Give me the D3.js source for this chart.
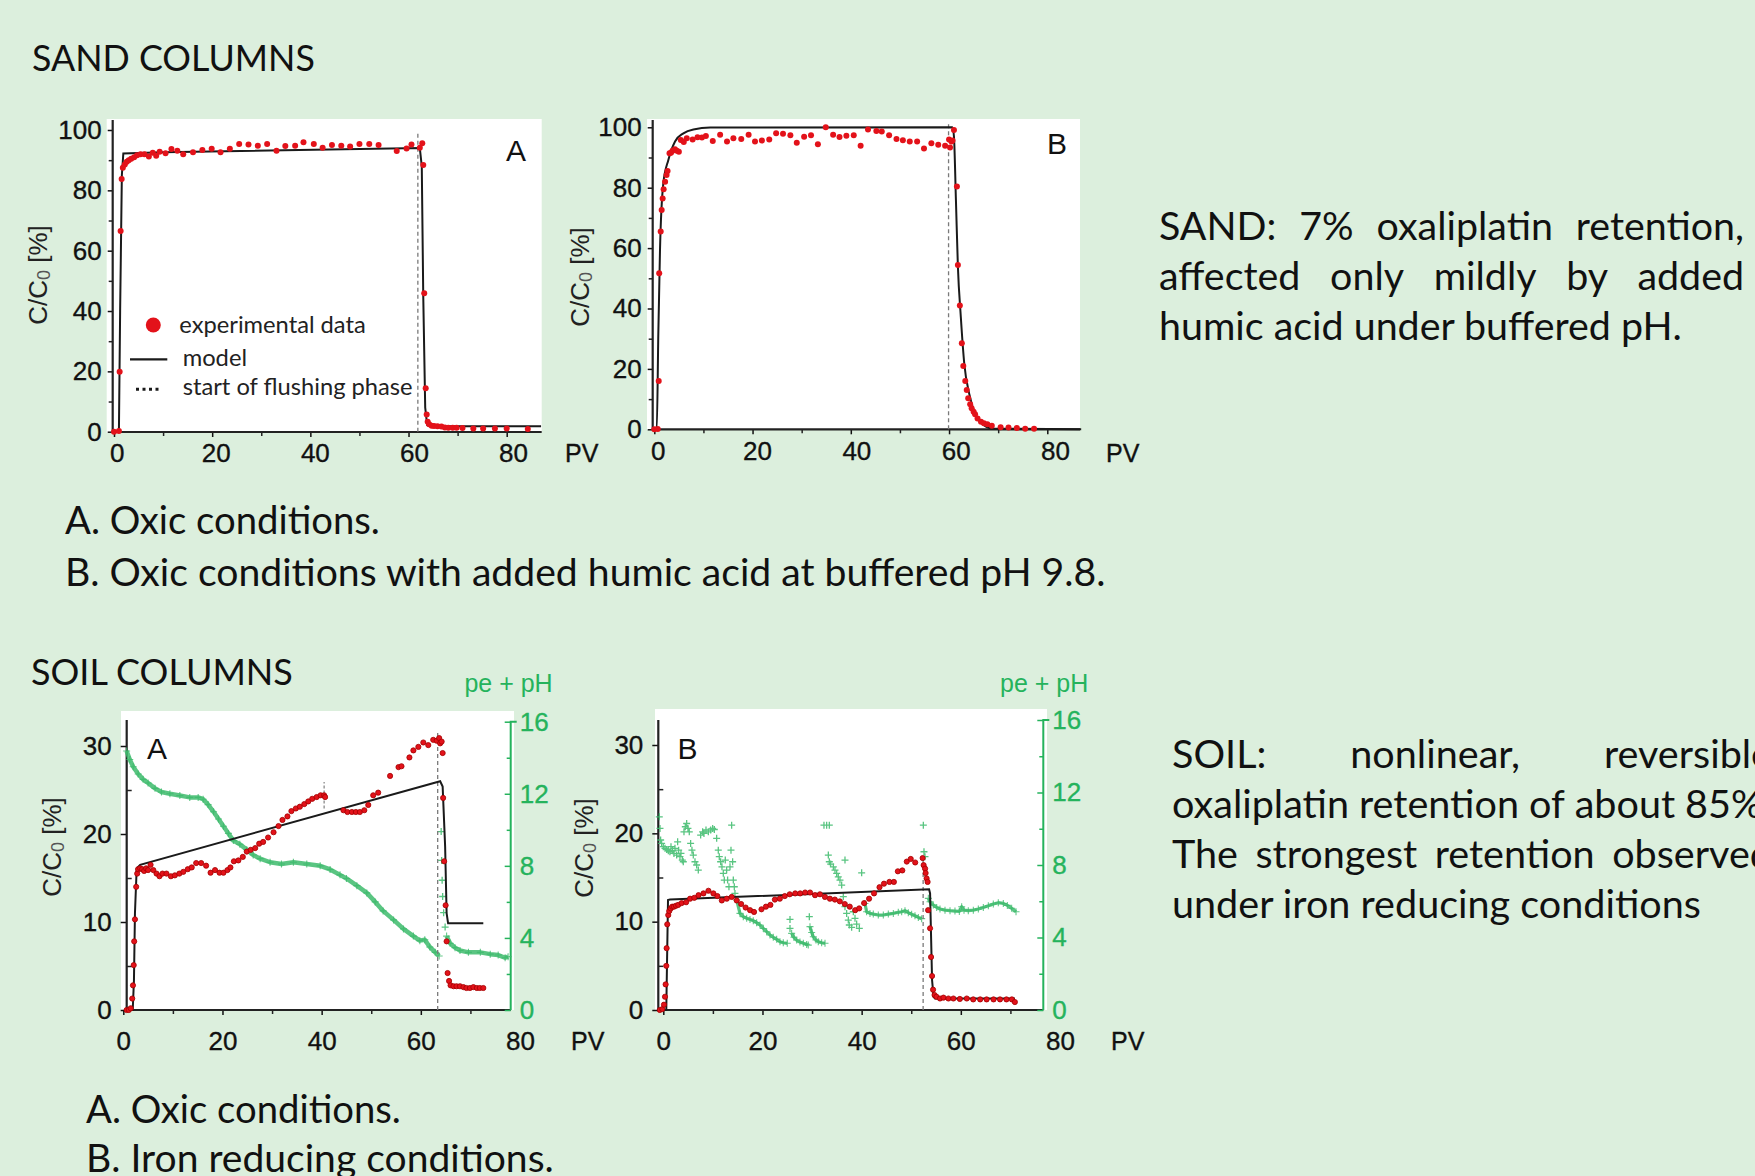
<!DOCTYPE html>
<html>
<head>
<meta charset="utf-8">
<script src="https://cdn.jsdelivr.net/npm/d3@7"></script>
<style>
  html, body { margin: 0; padding: 0; background: #dcefdd; overflow: hidden; }
  svg { display: block; }
</style>
</head>
<body>
<svg id="chart" width="1755" height="1176"></svg>
<script>
// ---------------- data ----------------
const xTickValues = [0, 20, 40, 60, 80];
const xMinorTicks = [10, 30, 50, 70];
const sandYTicks = [0, 20, 40, 60, 80, 100];
const sandYMinor = [10, 30, 50, 70, 90];
const soilYTicks = [0, 10, 20, 30];
const soilYMinor = [5, 15, 25];
const peTicks = [0, 4, 8, 12, 16];
const peMinor = [2, 6, 10, 14];

// Sand column A: [PV, C/C0 %]
const sandAExp = [[0,0],[1.0,0.2],[1.15,19.9],[1.35,66.5],[1.56,83.8],[1.8,87.5],[2.2,88.6],[2.6,89.5],[3.0,90],[3.5,90.5],[4.1,91],[4.7,91.6],[5.4,92],[6.2,92],[7.1,91.2],[7.9,92.5],[8.6,91.5],[9.3,92.8],[10.5,92.3],[11.7,93.7],[12.9,93.1],[14.1,92],[16.1,92.6],[18,93.4],[19.9,93.8],[21.7,92.6],[23.6,93.8],[25.5,95.4],[27.4,95.2],[29.3,94.8],[31.2,95.4],[33.1,93.1],[34.9,94.7],[36.9,94.8],[38.6,95.9],[40.7,95.4],[42.5,94.1],[44.4,95],[46.3,94.8],[48.1,94.5],[50,95.4],[52,95.4],[53.9,95],[57.6,93],[59.6,93.9],[60.6,95.2],[62.3,94.1],[62.8,95.6],[63,88.4],[63.2,45.9],[63.5,14.4],[63.7,5.7],[63.9,3.3],[64.2,2.5],[64.7,2],[65.2,1.9],[65.9,1.8],[66.7,1.7],[67.4,1.4],[68.1,1.3],[69,1.3],[69.8,1.3],[71,1.2],[73.2,1.1],[75.2,1.1],[77.6,1.1],[80,1.1],[84.3,0.9]];
const sandAModel = [[0,0],[1.0,0],[1.25,40],[1.6,85],[1.9,92.2],[10,92.6],[62.3,94],[62.7,88],[63.0,45],[63.4,8],[63.8,2.2],[64.5,1.8],[87,1.8]];
const sandAFlush = 61.9;

// Sand column B
const sandBExp = [[0,0],[0.7,0.1],[0.9,16],[1.0,51.7],[1.3,65.5],[1.5,72.6],[1.7,76.4],[1.9,79.5],[2.2,82],[2.5,84.2],[2.7,85.5],[3.1,91.4],[3.4,91.6],[3.7,92.2],[4.2,92.7],[4.6,92.2],[5.0,91.9],[5.4,95.8],[6.0,95.1],[6.6,96.4],[7.8,96],[8.8,96.7],[9.7,96.6],[10.5,97.1],[11.9,95.5],[13.4,97.5],[14.8,95.3],[16.1,96.4],[17.7,96.1],[19.2,97.5],[20.5,95.3],[21.9,95.6],[23.4,96],[24.8,98],[26.2,97.9],[27.7,97.4],[29,94.9],[30.5,96.9],[31.9,97.4],[33.3,94.4],[34.9,100],[36.4,97.5],[37.7,96.8],[39.1,97.2],[40.6,97.4],[42,93.9],[43.5,99.3],[45.2,98.8],[46.3,98.6],[47.8,97.4],[49.3,96.1],[50.6,95.7],[52,95.3],[53.5,95.3],[54.9,93],[56.4,94.7],[57.8,94.2],[59.2,93.9],[60,96],[60.2,93.3],[60.5,95.3],[60.7,95.6],[61,99.1],[61.6,80.4],[61.8,54.4],[62.2,41],[62.6,28.5],[62.9,21],[63.3,16],[63.6,13],[63.9,10.3],[64.3,8.3],[64.6,7],[65,5.8],[65.3,5],[65.8,3.6],[66.5,2.5],[67.1,2],[67.8,1.7],[68.7,1.2],[70.5,0.7],[72.1,0.6],[73.8,0.4],[75.5,0.2],[77.3,0.2]];
const sandBModel = [[0,0],[0.5,0],[0.82,31.8],[1.16,59.4],[1.84,81.5],[2.86,89.2],[4.22,95.3],[5.92,98],[7.96,99.3],[11.4,99.9],[60.7,100],[61.0,96.9],[61.4,75.9],[61.8,53.9],[62.4,37.1],[63.1,21.7],[64.1,11.8],[65.4,4.7],[67.1,1.4],[69.1,0.2],[86.9,0]];
const sandBFlush = 59.9;

// Soil column A: [PV, C/C0 %] and [PV, pe + pH]
const soilAExp = [[0.67,0],[1.1,0],[1.5,0.2],[1.8,1.3],[1.95,2.8],[2.1,5.1],[2.2,7.8],[2.35,10.3],[2.6,14],[2.8,15.5],[3.0,16],[3.4,16.1],[3.8,16],[4.2,15.8],[4.6,16.1],[5.0,15.9],[5.5,16.5],[6.05,15.9],[6.7,15.5],[7.3,15.2],[7.9,15.5],[8.7,15.5],[9.6,15.2],[10.4,15.3],[11.3,15.5],[12.1,15.7],[13,16],[13.8,16.2],[14.7,16.7],[15.7,16.7],[16.7,16.4],[17.6,15.6],[18.5,15.9],[19.4,15.6],[20.2,15.6],[21,15.9],[21.6,16.2],[22.3,16.9],[23.2,17],[24.1,17.4],[24.9,18],[25.7,18.2],[26.6,18.4],[27.4,18.9],[28.2,19.1],[29.2,19.6],[30.3,20.2],[31.3,20.9],[32.1,21.6],[33.1,22],[33.9,22.6],[34.8,22.9],[35.6,23.1],[36.5,23.4],[37.3,23.7],[38.1,24],[39,24.2],[39.8,24.4],[40.5,24.4],[40.7,24.2],[44.4,22.7],[45.2,22.5],[46.1,22.5],[46.9,22.5],[47.7,22.5],[48.6,22.7],[49.4,23.3],[50.4,24.4],[51.4,24.7],[53.8,26.6],[55.5,27.6],[56.1,27.7],[57.7,28.7],[58.5,29.5],[59.5,29.9],[60.5,30.4],[61.5,30.1],[62.5,30.7],[63.2,30.6],[63.7,30.9],[63.9,30.3],[64.2,30.5],[64.4,29.2],[64.5,24.1],[64.7,16.9],[65,11.9],[65.2,7.8],[65.4,4.2],[65.7,3.3],[66,2.8],[66.6,2.7],[67.2,2.7],[67.9,2.7],[68.6,2.6],[69.2,2.5],[69.9,2.5],[70.6,2.6],[71.3,2.5],[71.9,2.5],[72.6,2.5]];
const soilAModel = [[0.67,0],[1.9,0],[2.15,3.4],[2.35,11],[2.7,16.1],[3.4,16.5],[63.9,26],[64.4,25.4],[64.9,18.6],[65.2,11],[65.5,9.85],[72.6,9.85]];
const soilAPe = [[0.67,14.37],[1.3,13.9],[2.0,13.5],[3.0,13.1],[4.0,12.8],[5.0,12.6],[6.4,12.3],[7.7,12.1],[9.4,12.0],[11.4,11.9],[13.4,11.8],[15.1,11.8],[16.1,11.7],[17.1,11.4],[18.2,11.0],[19.2,10.6],[20.2,10.2],[21.2,9.8],[22.2,9.4],[23.5,9.2],[24.9,8.9],[26.2,8.6],[27.6,8.4],[29.6,8.2],[31.9,8.1],[34.3,8.2],[37,8.1],[39.7,8.0],[41.7,7.8],[43.7,7.5],[45,7.3],[47.1,6.9],[49.1,6.5],[50.8,6.0],[52.4,5.5],[54.5,5.0],[56.5,4.5],[58.5,4.1],[59.8,3.85],[60.8,3.9],[61.8,3.5],[62.9,3.2],[63.7,3.0]];
const soilAPeFlushJump = [[64.1,9.9],[64.2,8.3],[64.3,7.2],[64.4,6.3],[64.6,5.4],[64.9,4.6]];
const soilAPeAfter = [[65.2,4.1],[65.9,3.7],[66.9,3.46],[67.9,3.3],[69.6,3.2],[72,3.2],[74,3.1],[75.6,3.05],[77,2.9],[77.6,2.96]];
const soilAFlush = 63.4;
const soilASampleMark = [40.5, 22.9, 25.9];

// Soil column B
const soilBExp = [[-0.7,0],[-0.2,0.1],[0.13,0.6],[0.34,1.5],[0.47,2.9],[0.6,5.0],[0.67,7.0],[0.8,9.7],[1.0,10.75],[1.2,11.2],[1.5,11.5],[1.8,11.7],[2.15,11.7],[2.55,11.8],[3.0,11.9],[3.7,12.1],[4.6,12.2],[5.4,12.6],[6.25,12.7],[7.1,13],[8.1,13.2],[9.1,13.5],[10.1,13.2],[10.9,12.9],[11.8,12.4],[12.8,12.6],[13.8,12.8],[14.8,12.4],[15.7,12.0],[16.6,11.6],[17.5,11.3],[18.3,11.1],[19.8,11.4],[20.7,11.7],[21.6,11.9],[22.5,12.5],[23.5,12.6],[24.5,12.9],[25.5,13.1],[26.6,13.2],[27.6,13.2],[28.6,13.3],[29.6,13.3],[30.6,13.0],[31.6,13.1],[32.6,12.8],[33.6,12.6],[34.6,12.5],[35.6,12.3],[36.6,12.0],[37.6,11.7],[38.7,11.3],[39.5,11.5],[40.5,12.1],[41.5,12.6],[42.5,13.2],[43.6,13.9],[44.5,14.3],[45.6,14.5],[46.5,14.5],[47.3,15.7],[48.2,15.8],[49.1,16.8],[49.9,17.1],[50.8,16.7],[52.3,17.2],[52.5,16.4],[52.8,16.0],[52.9,15.5],[53.1,14.9],[53.3,14.5],[53.4,11.3],[53.8,9.25],[54,6.0],[54.2,3.85],[54.4,2.3],[54.7,1.7],[55.1,1.5],[55.8,1.3],[56.5,1.4],[57.5,1.3],[58.5,1.3],[59.8,1.25],[61.2,1.3],[62.5,1.2],[63.9,1.2],[65.2,1.2],[66.6,1.2],[67.9,1.2],[69.2,1.2],[70.3,1.2],[70.9,0.9]];
const soilBModel = [[-0.7,0],[0.6,0],[0.95,12.45],[1.35,12.5],[53.6,13.66],[53.8,13.2],[54.2,3.4],[54.5,1.5],[54.8,1.3],[70.9,1.3]];
const soilBPeScatter = [[-0.81,10.66],[-0.67,10.02],[-0.54,9.38],[-0.34,9.19],[0,9.01],[0.34,8.92],[0.67,8.86],[1.01,8.79],[1.34,8.73],[1.55,9.01],[1.88,8.79],[2.15,8.64],[2.35,8.92],[2.69,8.55],[2.89,9.28],[3.09,8.82],[3.36,8.46],[3.56,8.64],[3.83,8.27],[4.03,8.18],[4.17,9.83],[4.44,10.11],[4.71,10.29],[4.97,10.02],[5.24,9.83],[5.51,9.19],[5.78,8.82],[6.05,8.55],[6.39,8.18],[6.72,8.0],[7.06,7.72],[7.53,9.65],[7.93,9.83],[8.2,9.74],[8.61,9.93],[9.08,9.83],[9.55,9.93],[9.95,10.02],[10.29,9.96],[10.76,9.47],[11.09,8.82],[11.29,8.46],[11.56,8.18],[11.83,7.9],[12.1,7.54],[12.3,7.17],[12.5,8.27],[12.77,7.72],[12.97,7.17],[13.24,6.8],[13.45,7.9],[13.65,8.82],[13.78,10.2],[13.98,8.18],[14.12,7.17],[14.32,6.8],[14.45,6.43],[25.55,5.0],[25.55,4.5],[29.45,5.15],[32.4,10.2],[32.94,10.2],[33.48,10.2],[33.28,8.55],[33.48,8.18],[33.75,8.05],[34.29,7.9],[34.62,7.72],[34.96,7.54],[35.29,7.35],[35.63,7.17],[35.97,6.89],[36.64,8.27],[36.3,6.25],[36.64,5.7],[36.97,5.33],[37.31,4.96],[37.51,4.69],[37.98,4.56],[38.32,5.42],[38.66,5.06],[38.99,4.74],[39.53,4.5],[40.0,7.57],[52.44,10.2],[52.57,8.73],[52.77,8.46]];
const soilBPeRuns = [
  [[14.79,6.07],[15.46,5.33],[16.13,5.15],[16.81,5.06],[17.48,5.0],[18.15,4.93],[18.82,4.82],[19.5,4.69],[20.17,4.5],[20.84,4.32],[21.51,4.14],[22.18,4.01],[22.86,3.9],[23.53,3.77],[24.2,3.71],[25.0,3.68]],
  [[25.88,4.23],[26.35,4.01],[26.89,3.86],[27.56,3.75],[28.24,3.68],[28.91,3.62],[29.24,3.58]],
  [[29.58,4.6],[29.92,4.28],[30.25,4.04],[30.79,3.86],[31.26,3.77],[31.93,3.71],[32.61,3.68]],
  [[40.67,5.88],[41.0,5.42],[41.68,5.33],[42.35,5.29],[43.36,5.24],[44.37,5.24],[45.38,5.29],[46.39,5.33],[47.39,5.39],[48.07,5.42],[48.74,5.48],[49.41,5.37],[50.08,5.28],[50.76,5.2],[51.43,5.11],[52.1,5.04]],
  [[53.45,6.16],[53.78,5.97],[54.45,5.79],[55.13,5.66],[55.8,5.57],[56.81,5.51],[57.82,5.48],[58.82,5.46],[59.7,5.44],[60.17,5.7],[60.64,5.51],[61.51,5.48],[62.52,5.51],[63.53,5.57],[64.54,5.66],[65.55,5.75],[66.55,5.85],[67.56,5.92],[68.57,5.88],[69.38,5.77],[70.25,5.61],[71.13,5.42]]
];
const soilBFlush = 52.4;

// text blocks
const sandNote = ["SAND: 7% oxaliplatin retention,", "affected only mildly by added", "humic acid under buffered pH."];
const soilNote = ["SOIL: nonlinear, reversible", "oxaliplatin retention of about 85%.", "The strongest retention observed", "under iron reducing conditions"];
const legendLabels = ["experimental data", "model", "start of flushing phase"];

// ---------------- styles ----------------
const W = 1755, H = 1176;
const BG = "#dcefdd";
const INK = "#111";
const AXIS_INK = "#222";
const GREEN_TEXT = "#25b35c";
const GREEN_DATA = "#3dbb6c";
const RED = "#e3121a";
const TEXT_FONT = "Lato, 'Open Sans', sans-serif";
const AXIS_FONT = "'Liberation Sans', Arial, sans-serif";
const TICK_SIZE = 26;

const svg = d3.select("#chart");
svg.append("rect").attr("width", W).attr("height", H).attr("fill", BG);

function fitFont(str, family, target) {
  const t = svg.append("text").attr("font-family", family).attr("font-size", 100).text(str);
  const w = t.node().getComputedTextLength();
  t.remove();
  return 100 * target / w;
}

function addText(str, x, y, size, family, fill, anchor) {
  return svg.append("text")
    .attr("x", x).attr("y", y)
    .attr("font-family", family).attr("font-size", size)
    .attr("fill", fill || INK)
    .attr("text-anchor", anchor || "start")
    .text(str);
}

// Place words so a line fills [x0, x1] exactly (justified text).
function justifyLine(str, x0, x1, y, size) {
  const words = str.split(" ");
  const t = svg.append("text").attr("y", y)
    .attr("font-family", TEXT_FONT).attr("font-size", size).attr("fill", INK);
  const spans = words.map(w => t.append("tspan").text(w));
  const widths = spans.map(s => s.node().getComputedTextLength());
  const gap = (x1 - x0 - d3.sum(widths)) / (words.length - 1);
  let x = x0;
  spans.forEach((s, i) => { s.attr("x", x); x += widths[i] + gap; });
}

function styleAxis(g, color) {
  g.select(".domain").remove();
  g.selectAll("line").attr("stroke", color).attr("stroke-width", 1.5);
  g.selectAll("text").attr("font-family", AXIS_FONT).attr("font-size", TICK_SIZE)
    .attr("fill", color).attr("stroke", color).attr("stroke-width", 0.35);
}

function crossPath(d, x, y, s) {
  const cx = x(d[0]), cy = y(d[1]);
  return `M${cx - s},${cy}H${cx + s}M${cx},${cy - s}V${cy + s}`;
}

// ---------------- panels ----------------
const panels = [
  { frame: {l: 112.7, r: 541.7, t: 120, b: 432}, bg: [106.7, 119, 541.7, 433],
    xRange: [114, 506.7], labelRange: [116.7, 513], yDomain: [0, 100], yRange: [431.7, 130],
    yTicks: sandYTicks, yMinor: sandYMinor, yTickSize: 5, yPad: 6, minorInside: false, xPad: 7,
    exp: sandAExp, model: sandAModel, curve: d3.curveLinear, flush: [sandAFlush, 0, 99],
    letter: ["A", 516, 161], pv: [565, 462], title: [38, 275], dotR: 3, dotStroke: "none" },
  { frame: {l: 652.7, r: 1080, t: 120, b: 429.3}, bg: [647, 119, 1080, 430],
    xRange: [654.3, 1047.3], labelRange: [657.7, 1055], yDomain: [0, 100], yRange: [429.3, 127.3],
    yTicks: sandYTicks, yMinor: sandYMinor, yTickSize: 5, yPad: 6, minorInside: false, xPad: 7,
    exp: sandBExp, model: sandBModel, curve: d3.curveMonotoneX, flush: [sandBFlush, 0, 101],
    letter: ["B", 1057, 154], pv: [1106, 462], title: [580, 277], dotR: 3, dotStroke: "none" },
  { frame: {l: 126.7, r: 510.7, t: 720, b: 1010}, bg: [121, 711, 514, 1010],
    xRange: [123.3, 520], labelRange: [123.3, 520], yDomain: [0, 30], yRange: [1010, 746], y2Range: [1010, 721.7],
    yTicks: soilYTicks, yMinor: soilYMinor, yTickSize: 6, yPad: 9, minorInside: true, xPad: 17,
    exp: soilAExp, model: soilAModel, curve: d3.curveLinear, flush: [soilAFlush, 0, 31.8],
    mark: soilASampleMark,
    peRuns: [soilAPe, soilAPeAfter], peScatter: soilAPeFlushJump, peWidth: 4.5,
    letter: ["A", 157, 759], pv: [571, 1050], title: [52, 847], pe: [552.7, 692],
    dotR: 2.6, dotStroke: "#a30000" },
  { frame: {l: 658.3, r: 1043.3, t: 720, b: 1010}, bg: [655, 709, 1047, 1010],
    xRange: [663.3, 1060], labelRange: [663.3, 1060], yDomain: [0, 30], yRange: [1010, 745], y2Range: [1010, 720],
    yTicks: soilYTicks, yMinor: soilYMinor, yTickSize: 6, yPad: 9, minorInside: true, xPad: 17,
    exp: soilBExp, model: soilBModel, curve: d3.curveLinear, flush: [soilBFlush, 0, 17],
    peRuns: soilBPeRuns, peScatter: soilBPeScatter, peWidth: 3.2,
    letter: ["B", 687.5, 759], pv: [1111, 1050], title: [584, 848], pe: [1088.3, 692],
    dotR: 2.6, dotStroke: "#a30000" }
];

function drawPanel(p) {
  const g = svg.append("g");
  const f = p.frame;
  g.append("rect").attr("x", p.bg[0]).attr("y", p.bg[1])
    .attr("width", p.bg[2] - p.bg[0]).attr("height", p.bg[3] - p.bg[1]).attr("fill", "#fff");

  const x = d3.scaleLinear().domain([0, 80]).range(p.xRange);
  const xLab = d3.scaleLinear().domain([0, 80]).range(p.labelRange);
  const y = d3.scaleLinear().domain(p.yDomain).range(p.yRange);
  const y2 = p.y2Range ? d3.scaleLinear().domain([0, 16]).range(p.y2Range) : null;

  // left axis
  const ya = g.append("g").attr("transform", `translate(${f.l},0)`)
    .call(d3.axisLeft(y).tickValues(p.yTicks).tickSize(p.yTickSize).tickPadding(p.yPad));
  styleAxis(ya, INK);
  const yam = g.append("g").attr("transform", `translate(${f.l},0)`)
    .call(d3.axisLeft(y).tickValues(p.yMinor).tickSize(p.minorInside ? -5 : 4).tickFormat(""));
  styleAxis(yam, AXIS_INK);

  // bottom axis: tick marks on the data scale, numbers on the label scale
  const xa = g.append("g").attr("transform", `translate(0,${f.b})`)
    .call(d3.axisBottom(x).tickValues(xTickValues).tickSize(5).tickFormat(""));
  styleAxis(xa, INK);
  xa.selectAll(".tick").filter(d => x(d) > f.r).remove();
  const xl = g.append("g").attr("transform", `translate(0,${f.b})`)
    .call(d3.axisBottom(xLab).tickValues(xTickValues).tickSize(0).tickPadding(5 + p.xPad));
  styleAxis(xl, INK);
  xl.selectAll("line").remove();
  const xam = g.append("g").attr("transform", `translate(0,${f.b})`)
    .call(d3.axisBottom(x).tickValues(xMinorTicks).tickSize(4).tickFormat(""));
  styleAxis(xam, AXIS_INK);

  // frame lines
  g.append("line").attr("x1", f.l).attr("x2", f.l).attr("y1", f.t).attr("y2", f.b)
    .attr("stroke", AXIS_INK).attr("stroke-width", 2.2);
  g.append("line").attr("x1", f.l).attr("x2", f.r).attr("y1", f.b).attr("y2", f.b)
    .attr("stroke", AXIS_INK).attr("stroke-width", 2.2);

  // right (pe + pH) axis
  if (y2) {
    const ra = g.append("g").attr("transform", `translate(${f.r},0)`)
      .call(d3.axisRight(y2).tickValues(peTicks).tickSizeInner(-6).tickSizeOuter(0).tickPadding(9));
    styleAxis(ra, GREEN_TEXT);
    const ram = g.append("g").attr("transform", `translate(${f.r},0)`)
      .call(d3.axisRight(y2).tickValues(peMinor).tickSizeInner(-4).tickSizeOuter(0).tickFormat(""));
    styleAxis(ram, GREEN_TEXT);
    g.append("path")
      .attr("d", `M${f.r + 6},${y2(16)}H${f.r}V${f.b}`)
      .attr("fill", "none").attr("stroke", GREEN_TEXT).attr("stroke-width", 2);
  }

  // pe + pH measurements
  if (y2) {
    const peLine = d3.line().x(d => x(d[0])).y(d => y2(d[1]));
    p.peRuns.forEach(run => {
      g.append("path").attr("d", peLine(run)).attr("fill", "none")
        .attr("stroke", GREEN_DATA).attr("stroke-width", p.peWidth)
        .attr("stroke-linejoin", "round").attr("opacity", 0.85);
      g.append("path").attr("d", run.map(d => crossPath(d, x, y2, 3.5)).join(""))
        .attr("stroke", GREEN_DATA).attr("stroke-width", 1.1).attr("opacity", 0.8);
    });
    g.append("path").attr("d", p.peScatter.map(d => crossPath(d, x, y2, 3.5)).join(""))
      .attr("stroke", GREEN_DATA).attr("stroke-width", 1.3).attr("opacity", 0.85);
  }

  // start of flushing phase
  g.append("line")
    .attr("x1", x(p.flush[0])).attr("x2", x(p.flush[0]))
    .attr("y1", y(p.flush[1])).attr("y2", y(p.flush[2]))
    .attr("stroke", "#7a7a7a").attr("stroke-width", 1.3).attr("stroke-dasharray", "4,3");
  if (p.mark) {
    g.append("line")
      .attr("x1", x(p.mark[0])).attr("x2", x(p.mark[0]))
      .attr("y1", y(p.mark[1])).attr("y2", y(p.mark[2]))
      .attr("stroke", "#8a8a8a").attr("stroke-width", 1.3).attr("stroke-dasharray", "3,2");
  }

  // model
  g.append("path")
    .attr("d", d3.line().x(d => x(d[0])).y(d => y(d[1])).curve(p.curve)(p.model))
    .attr("fill", "none").attr("stroke", "#1a1a1a").attr("stroke-width", 2);

  // experimental data
  g.selectAll("circle.exp").data(p.exp).join("circle")
    .attr("class", "exp")
    .attr("cx", d => x(d[0])).attr("cy", d => y(d[1]))
    .attr("r", p.dotR).attr("fill", RED)
    .attr("stroke", p.dotStroke).attr("stroke-width", 0.8);

  // labels
  addText(p.letter[0], p.letter[1], p.letter[2], 30, AXIS_FONT, INK, "middle");
  addText("PV", p.pv[0], p.pv[1], 25, AXIS_FONT, INK).attr("stroke", INK).attr("stroke-width", 0.35);
  const tt = svg.append("text")
    .attr("transform", `translate(${p.title[0]},${p.title[1]}) rotate(-90)`)
    .attr("text-anchor", "middle").attr("dominant-baseline", "central")
    .attr("font-family", AXIS_FONT).attr("font-size", 26).attr("fill", AXIS_INK);
  tt.append("tspan").text("C/C");
  tt.append("tspan").attr("font-size", 18).attr("dy", 6).attr("fill", "#555").text("0");
  tt.append("tspan").attr("dy", -6).text(" [%]");
  if (p.pe) addText("pe + pH", p.pe[0], p.pe[1], 25, AXIS_FONT, GREEN_TEXT, "end");
}

panels.forEach(drawPanel);

// ---------------- legend (sand A) ----------------
const legSize = fitFont(legendLabels[2], TEXT_FONT, 230);
svg.append("circle").attr("cx", 153.3).attr("cy", 325).attr("r", 7.5).attr("fill", RED);
addText(legendLabels[0], 179.3, 333, legSize, TEXT_FONT, "#222");
svg.append("line").attr("x1", 130).attr("x2", 167.3).attr("y1", 359.3).attr("y2", 359.3)
  .attr("stroke", "#1a1a1a").attr("stroke-width", 2.2);
addText(legendLabels[1], 182.7, 366, legSize, TEXT_FONT, "#222");
svg.append("line").attr("x1", 136).attr("x2", 162).attr("y1", 389.3).attr("y2", 389.3)
  .attr("stroke", "#1a1a1a").attr("stroke-width", 3).attr("stroke-dasharray", "3,3.5");
addText(legendLabels[2], 182.7, 395, legSize, TEXT_FONT, "#222");

// ---------------- headings and captions ----------------
function fitted(str, x, y, width) {
  addText(str, x, y, fitFont(str, TEXT_FONT, width), TEXT_FONT, INK);
}
fitted("SAND COLUMNS", 32, 70.5, 283);
fitted("A. Oxic conditions.", 65, 534, 315);
fitted("B. Oxic conditions with added humic acid at buffered pH 9.8.", 65, 586, 1041);
fitted("SOIL COLUMNS", 31, 685, 262);
fitted("A. Oxic conditions.", 86, 1123, 315);
fitted("B. Iron reducing conditions.", 86, 1172, 468);

// ---------------- side notes (justified) ----------------
const sandSize = fitFont(sandNote[2], TEXT_FONT, 523);
[239.5, 290, 340].forEach((by, i) => {
  if (i < sandNote.length - 1) justifyLine(sandNote[i], 1159, 1744, by, sandSize);
  else addText(sandNote[i], 1159, by, sandSize, TEXT_FONT, INK);
});
const soilSize = fitFont(soilNote[3], TEXT_FONT, 529);
[768, 818, 868, 918].forEach((by, i) => {
  if (i < soilNote.length - 1) justifyLine(soilNote[i], 1172, 1772, by, soilSize);
  else addText(soilNote[i], 1172, by, soilSize, TEXT_FONT, INK);
});
</script>
</body>
</html>
